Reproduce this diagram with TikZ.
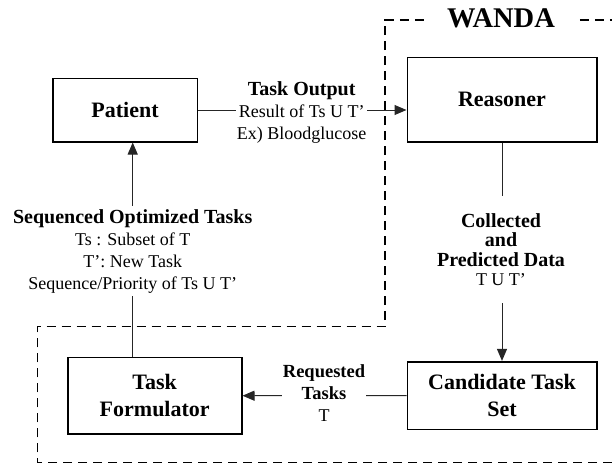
\documentclass[tikz,border=0pt]{standalone}
\usepackage{fontspec}
\setmainfont{Liberation Serif}
\usetikzlibrary{arrows.meta}
\tikzset{
  box/.style={draw=black, line width=1.6pt, align=center, inner sep=0pt,
    font=\fontsize{22}{26.5}\selectfont\bfseries},
  conn/.style={draw=black!85, line width=1pt},
  arr/.style={conn, -{Triangle[length=12pt,width=10pt]}},
  lbl/.style={fill=white, align=center, inner xsep=1pt, inner ysep=1pt},
  bnd/.style={draw=black, line width=1.3pt, dash pattern=on 9pt off 6pt},
}
\newcommand{\lblb}[1]{{\fontsize{20}{22}\selectfont\bfseries #1}}
\begin{document}
\begin{tikzpicture}[x=1pt,y=-1pt]
\useasboundingbox (0,0) rectangle (612,466);
% boxes
\node[box, minimum width=144.6pt, minimum height=63.4pt] (patient) at (125,110) {Patient};
\node[box, minimum width=189.4pt, minimum height=84.4pt] (reasoner) at (502,99.5) {Reasoner};
\node[box, minimum width=174pt, minimum height=76.7pt] (formulator) at (154.7,395.7) {Task\\Formulator};
\node[box, minimum width=189.4pt, minimum height=67.6pt] (candidate) at (502,395.5) {Candidate Task\\Set};
% WANDA boundary
\draw[bnd] (612,462.7) -- (37.3,462.7) -- (37.3,326.7) -- (385,326.7) -- (385,20) -- (612,20);
\node[fill=white, inner xsep=19pt, inner ysep=2pt, font=\fontsize{28.5}{30}\selectfont\bfseries] (wanda) at (501,18) {WANDA};
% connectors
\coordinate (sx) at (132.7,0);
\draw[arr] (formulator.north -| sx) -- (patient.south -| sx);
\draw[arr] (patient.east) -- (patient.east -| reasoner.west);
\draw[arr] (reasoner.south) -- (candidate.north);
\draw[arr] (candidate.west) -- (formulator.east);
% labels
\node[lbl, font=\fontsize{18}{22}\selectfont] (outlbl) at (301.7,112.2)
  {\lblb{Task Output}\\Result of Ts U T’\\Ex) Bloodglucose};
\node[lbl, inner ysep=3pt, font=\fontsize{18}{22}\selectfont] (seqlbl) at (132.7,251.2)
  {\lblb{Sequenced Optimized Tasks}\\Ts : Subset of T\\T’: New Task\\Sequence/Priority of Ts U T’};
\node[lbl, inner ysep=17pt, font=\fontsize{18}{19.5}\selectfont] (collbl) at (501,249.4)
  {\lblb{Collected}\\\lblb{and}\\\lblb{Predicted Data}\\T U T’};
\node[lbl, inner xsep=0.5pt, inner ysep=0.5pt, font=\fontsize{18}{22}\selectfont] (reqlbl) at (324,393.5)
  {{\fontsize{18.5}{22}\selectfont\bfseries Requested}\\{\fontsize{18.5}{22}\selectfont\bfseries Tasks}\\T};
\end{tikzpicture}
\end{document}
